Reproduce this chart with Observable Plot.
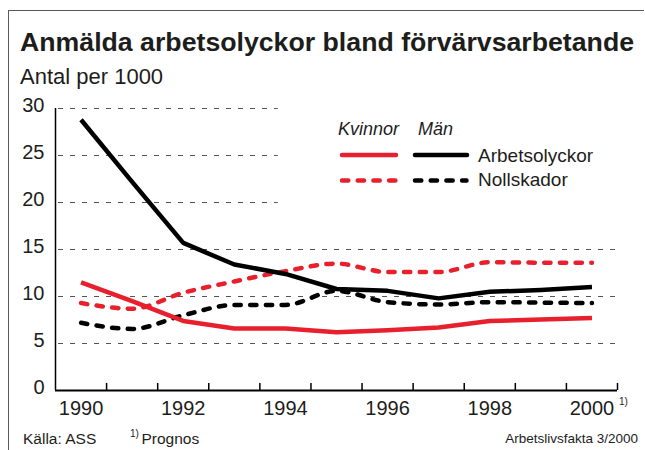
<!DOCTYPE html>
<html>
<head>
<meta charset="utf-8">
<script src="https://cdn.jsdelivr.net/npm/d3@7"></script>
<script src="https://cdn.jsdelivr.net/npm/@observablehq/plot@0.6"></script>
<style>
  html, body { margin: 0; padding: 0; background: #fff; }
  #wrap { position: relative; width: 645px; height: 450px; overflow: hidden; font-family: "Liberation Sans", Arial, Helvetica, sans-serif; color: #1d1d1b; }
  .abs { position: absolute; white-space: nowrap; }
  #frameTop { position: absolute; left: 8px; top: 10px; width: 636px; height: 1.3px; background: #5a5a5a; }
  #frameLeft { position: absolute; left: 8px; top: 10px; width: 1.3px; height: 440px; background: #5a5a5a; }
  #title { left: 20px; top: 28.5px; font-size: 26.7px; line-height: 26.7px; font-weight: bold; }
  #subtitle { left: 20px; top: 66px; font-size: 22px; line-height: 22px; }
  #chart { position: absolute; left: 0; top: 90px; }
  #legend { position: absolute; left: 330px; top: 110px; }
  #src { left: 23px; top: 431px; font-size: 15.5px; line-height: 15.5px; }
  #noteSup { left: 130px; top: 429px; font-size: 10px; line-height: 10px; }
  #note { left: 141.5px; top: 431px; font-size: 15.5px; line-height: 15.5px; }
  #pub { right: 7px; top: 432px; font-size: 13.5px; line-height: 13.5px; }
</style>
</head>
<body>
<div id="wrap">
  <div id="frameTop"></div>
  <div id="frameLeft"></div>
  <div id="title" class="abs">Anmälda arbetsolyckor bland förvärvsarbetande</div>
  <div id="subtitle" class="abs">Antal per 1000</div>
  <div id="chart"></div>
  <div id="legend"></div>
  <div id="src" class="abs">Källa: ASS</div>
  <div id="noteSup" class="abs">1)</div>
  <div id="note" class="abs">Prognos</div>
  <div id="pub" class="abs">Arbetslivsfakta 3/2000</div>
</div>
<script>
// ---- Data ----
const years = [1990, 1991, 1992, 1993, 1994, 1995, 1996, 1997, 1998, 1999, 2000];
const kvinnorArbetsolyckor = [11.5, 9.5, 7.4, 6.6, 6.6, 6.2, 6.4, 6.7, 7.4, 7.55, 7.7];
const manArbetsolyckor     = [28.8, 22.2, 15.7, 13.4, 12.4, 10.8, 10.6, 9.8, 10.5, 10.7, 11.0];
const kvinnorNollskador    = [9.3, 8.7, 10.4, 11.6, 12.7, 13.5, 12.6, 12.6, 13.65, 13.6, 13.6];
const manNollskador        = [7.2, 6.55, 8.0, 9.1, 9.1, 10.6, 9.4, 9.15, 9.4, 9.35, 9.3];

const labelYears = [1990, 1992, 1994, 1996, 1998, 2000];
const yTicks = [0, 5, 10, 15, 20, 25, 30];
const shortGrid = [20, 25, 30];
const longGrid = [5, 10, 15];
const tickBoundaries = [1990.5, 1991.5, 1992.5, 1993.5, 1994.5, 1995.5, 1996.5, 1997.5, 1998.5, 1999.5, 2000.5];
const xDomain = [1989.5, 2000.5];
const shortGridEnd = 1993.86;

const RED = "#e8202d";
const BLACK = "#000000";

function series(vals, sex, kind) {
  return vals.map((v, i) => ({year: years[i], value: v, sex, kind}));
}
const solidData = [
  ...series(kvinnorArbetsolyckor, "Kvinnor", "Arbetsolyckor"),
  ...series(manArbetsolyckor, "Män", "Arbetsolyckor")
];
const dotData = [
  ...series(kvinnorNollskador, "Kvinnor", "Nollskador"),
  ...series(manNollskador, "Män", "Nollskador")
];

const colorOf = d => d.sex === "Kvinnor" ? RED : BLACK;

const chart = Plot.plot({
  width: 645,
  height: 335,
  marginLeft: 55,
  marginRight: 28,
  marginTop: 18,
  marginBottom: 35,
  x: {domain: xDomain},
  y: {domain: [0, 30]},
  style: {fontFamily: '"Liberation Sans", Arial, Helvetica, sans-serif', background: "transparent", color: "#1d1d1b", overflow: "visible"},
  marks: [
    Plot.ruleY(shortGrid, {x1: xDomain[0], x2: shortGridEnd, stroke: "#555", strokeWidth: 1, strokeDasharray: "5,7", strokeDashoffset: -3}),
    Plot.ruleY(longGrid, {x1: xDomain[0], x2: xDomain[1], stroke: "#555", strokeWidth: 1, strokeDasharray: "5,7", strokeDashoffset: -3}),
    Plot.ruleX([xDomain[0]], {y1: 0, y2: 30, stroke: "#000", strokeWidth: 1.5}),
    Plot.ruleY([0], {x1: xDomain[0], x2: xDomain[1], stroke: "#000", strokeWidth: 2}),
    Plot.ruleX(tickBoundaries, {y1: 0, y2: 0.75, stroke: "#000", strokeWidth: 1.5}),
    Plot.axisX({ticks: labelYears, tickSize: 0, tickPadding: 10, tickFormat: d => String(d), fontSize: 20, label: null}),
    Plot.axisY({ticks: yTicks, tickSize: 0, tickPadding: 11, fontSize: 20, dy: -3, label: null}),
    Plot.line(dotData, {x: "year", y: "value", z: "sex", stroke: colorOf, strokeWidth: 4.5, strokeDasharray: "6.3,9.4", strokeLinecap: "round", strokeLinejoin: "round", curve: "monotone-x"}),
    Plot.line(solidData, {x: "year", y: "value", z: "sex", stroke: colorOf, strokeWidth: 4.5, strokeLinecap: "butt", strokeLinejoin: "round", curve: "linear"}),
    Plot.text(["1)"], {x: labelYears[labelYears.length - 1], y: 0, dx: 27, dy: 7, text: d => d, textAnchor: "start", lineAnchor: "top", fontSize: 10})
  ]
});
document.getElementById("chart").appendChild(chart);

// ---- Legend ----
const lg = d3.select("#legend").append("svg")
  .attr("width", 280).attr("height", 90)
  .style("font-family", '"Liberation Sans", Arial, Helvetica, sans-serif')
  .style("overflow", "visible");
const headers = [{t: "Kvinnor", x: 8}, {t: "Män", x: 88}];
lg.selectAll("text.h").data(headers).join("text")
  .attr("x", d => d.x).attr("y", 25)
  .attr("font-style", "italic").attr("font-size", 18).attr("fill", "#1d1d1b")
  .text(d => d.t);
const legendRows = [
  {label: "Arbetsolyckor", y: 45, dash: null, ty: 52},
  {label: "Nollskador", y: 70.5, dash: "6.3,9.4", ty: 76}
];
const legendCols = [{color: RED, x1: 12, x2: 66}, {color: BLACK, x1: 85, x2: 137}];
legendRows.forEach(r => {
  legendCols.forEach(c => {
    lg.append("line")
      .attr("x1", c.x1).attr("x2", r.dash ? c.x2 - 0.5 : c.x2)
      .attr("y1", r.y).attr("y2", r.y)
      .attr("stroke", c.color).attr("stroke-width", 4.5)
      .attr("stroke-linecap", "round")
      .attr("stroke-dasharray", r.dash);
  });
  lg.append("text").attr("x", 148).attr("y", r.ty)
    .attr("font-size", 19).attr("fill", "#1d1d1b").text(r.label);
});
</script>
</body>
</html>
